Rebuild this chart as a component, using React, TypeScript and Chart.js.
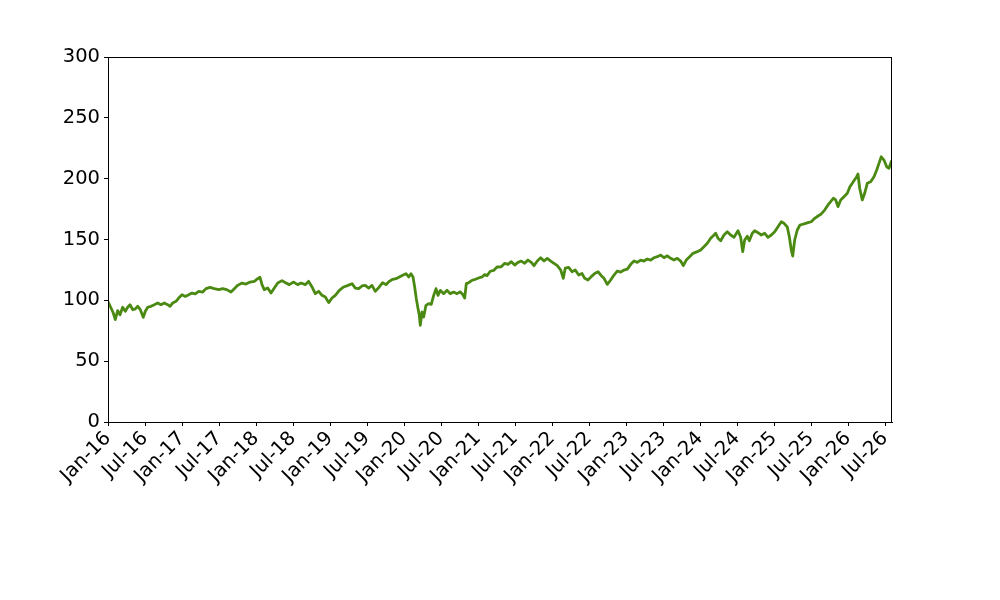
import { useEffect, useRef } from "react";
import { Chart, registerables } from "chart.js";
Chart.register(...registerables);

const monthOffsets = [
  0, 0.49, 0.86, 1.18, 1.57, 1.95, 2.38, 2.81, 3.19, 3.57,
  4.01, 4.43, 4.82, 5.24, 5.72, 6.05, 6.44, 6.97, 7.51, 8.06,
  8.59, 9.13, 9.68, 10.05, 10.49, 11.03, 11.46, 12.0, 12.53, 13.09,
  13.62, 14.16, 14.71, 15.36, 15.89, 16.54, 17.24, 17.95, 18.6, 19.25,
  19.94, 20.48, 21.03, 21.73, 22.38, 23.03, 23.72, 24.27, 24.65, 24.97,
  25.34, 25.9, 26.43, 26.97, 27.52, 28.21, 28.86, 29.4, 30.05, 30.76,
  31.3, 31.99, 32.54, 33.08, 33.61, 34.17, 34.7, 35.24, 35.79, 36.32,
  36.86, 37.51, 38.22, 38.92, 39.57, 40.1, 40.65, 41.19, 41.72, 42.27,
  42.81, 43.34, 43.99, 44.54, 45.08, 45.61, 46.16, 46.7, 47.24, 47.79,
  48.32, 48.76, 49.13, 49.46, 49.73, 49.99, 50.27, 50.48, 50.64, 50.92,
  51.19, 51.56, 52.0, 52.42, 52.81, 53.19, 53.51, 53.88, 54.43, 54.97,
  55.5, 56.06, 56.59, 57.13, 57.56, 57.84, 58.1, 58.49, 59.02, 59.56,
  60.11, 60.65, 61.08, 61.46, 61.99, 62.54, 63.08, 63.77, 64.33, 64.86,
  65.4, 65.95, 66.48, 67.02, 67.57, 68.1, 68.64, 69.08, 69.61, 70.16,
  70.7, 71.23, 71.79, 72.32, 72.86, 73.41, 73.83, 74.15, 74.7, 75.24,
  75.77, 76.32, 76.86, 77.3, 77.83, 78.37, 78.92, 79.46, 79.99, 80.43,
  80.96, 81.51, 82.05, 82.58, 83.14, 83.67, 84.21, 84.76, 85.29, 85.83,
  86.38, 86.91, 87.45, 88.0, 88.54, 89.07, 89.62, 90.16, 90.69, 91.24,
  91.78, 92.31, 92.86, 93.29, 93.77, 94.32, 94.86, 95.56, 96.11, 96.64,
  97.18, 97.73, 98.27, 98.54, 98.91, 99.35, 99.89, 100.42, 100.97, 101.51,
  102.16, 102.59, 102.92, 103.24, 103.66, 103.99, 104.48, 104.86, 105.4, 105.94,
  106.49, 107.02, 107.56, 108.11, 108.64, 109.18, 109.62, 110.15, 110.48, 110.8,
  111.03, 111.35, 111.77, 112.21, 112.86, 113.51, 114.04, 114.59, 115.13, 115.66,
  116.21, 116.75, 117.19, 117.61, 118.0, 118.37, 118.81, 119.34, 119.88, 120.31,
  120.85, 121.4, 121.61, 121.89, 122.31, 122.7, 123.12, 123.67, 124.21, 124.65,
  125.02, 125.39, 125.83, 126.27, 126.64, 127.01, 127.13,
];

// index level at each observation
const values = [
  99, 93.7, 89.6, 84.1, 91.5, 88.2, 94.3, 91, 94.3, 96.4,
  92.3, 93, 95.1, 92.3, 86, 91, 94.3, 95.1, 96.4, 97.8,
  96.4, 97.8, 96.4, 95.1, 97.8, 99.2, 101.9, 104.6, 103.2, 104.6,
  106, 105.3, 107.4, 106.8, 109.6, 110.7, 109.6, 108.8, 109.6, 108.8,
  106.8, 109.6, 112.3, 114.2, 113.4, 115, 115.6, 117.8, 118.9, 112.9,
  108.8, 110.1, 106, 110.1, 114.2, 116.2, 114.2, 112.9, 115, 112.9,
  114.2, 112.9, 115.6, 111, 105.5, 107.4, 104.1, 102.7, 98.1, 101.9,
  104.1, 108.2, 111, 112.3, 113.7, 110.1, 109.6, 111.8, 112.3, 110.1,
  112.3, 107.4, 111, 114.5, 112.9, 115.6, 117.3, 117.8, 119.2, 120.6,
  121.9, 119.2, 121.9, 119.2, 111, 101.4, 93.2, 87.7, 79.5, 90.4,
  86.3, 95.9, 97.3, 96.7, 104.1, 109.6, 104.1, 108.2, 105.5, 108.2,
  105.5, 106.8, 105.5, 107, 104.6, 101.9, 113.7, 114.5, 116.5, 117.3,
  118.4, 119.2, 121.1, 120.3, 123.9, 124.6, 127.4, 127.6, 130.4, 129.6,
  131.8, 129, 131.2, 132.3, 130.4, 133.1, 131.2, 128.5, 132.3, 135,
  132.3, 134.5, 132.3, 130.4, 128.5, 124.9, 118.1, 126.5, 127.1, 123.5,
  124.9, 120.8, 122.1, 118.1, 116.7, 119.5, 122.1, 123.5, 120.3, 118.1,
  113.1, 116.7, 120.8, 124.1, 123.2, 124.9, 125.7, 129.6, 132.3, 131.2,
  133.1, 132.3, 134, 133.1, 135, 135.9, 137.2, 135, 136.6, 134.5,
  133.1, 134.5, 132.3, 128.5, 133.1, 135.9, 138.6, 140, 141.4, 144.1,
  146.9, 151, 153.7, 155.1, 151, 149, 153.7, 156.4, 153.7, 151.8,
  157.2, 151.8, 140, 149.6, 152.7, 149, 155.1, 157.2, 155.6, 153.7,
  155.1, 151.8, 153.7, 156.4, 160.5, 164.6, 163.3, 160.3, 152.3, 141.4,
  136.4, 149.6, 157.8, 161.9, 162.8, 163.8, 164.6, 167.4, 169.3, 171,
  174.2, 178.4, 181.1, 183.9, 182.5, 177, 182.5, 185.2, 188, 193.4,
  197.5, 201.6, 203.8, 192.1, 182.5, 188, 196.2, 197.5, 201.6, 207.1,
  212.6, 218, 215.3, 209.8, 208.5, 213.9, 215,
];

const xTickLabels = [
  "Jan-16", "Jul-16", "Jan-17", "Jul-17", "Jan-18", "Jul-18", "Jan-19", "Jul-19",
  "Jan-20", "Jul-20", "Jan-21", "Jul-21", "Jan-22", "Jul-22", "Jan-23", "Jul-23",
  "Jan-24", "Jul-24", "Jan-25", "Jul-25", "Jan-26", "Jul-26",
];

const yTicks = [0, 50, 100, 150, 200, 250, 300];

const frameBox = {
  id: "frameBox",
  afterDraw(chart: Chart) {
    const { ctx, chartArea: a } = chart;
    ctx.save();
    ctx.strokeStyle = "#000";
    ctx.lineWidth = 1;
    ctx.strokeRect(a.left + 0.5, a.top + 0.5, a.right - a.left - 1, a.bottom - a.top);
    ctx.restore();
  },
};

const App = () => {
  const canvasRef = useRef<HTMLCanvasElement>(null);
  const chartRef = useRef<Chart | null>(null);

  useEffect(() => {
    if (!canvasRef.current) return;
    if (chartRef.current) chartRef.current.destroy();

    const font = { family: "'DejaVu Sans', sans-serif", size: 19.5 };

    chartRef.current = new Chart(canvasRef.current, {
      type: "line",
      data: {
        datasets: [
          {
            data: monthOffsets.map((m, i) => ({ x: m, y: values[i] })),
            borderColor: "#4b8a12",
            borderWidth: 2.8,
            pointRadius: 0,
            tension: 0,
            borderJoinStyle: "round",
            fill: false,
          },
        ],
      },
      options: {
        responsive: false,
        animation: false,
        layout: { padding: { left: 0, top: 57, right: 108, bottom: 0 } },
        plugins: {
          legend: { display: false },
          tooltip: { enabled: false },
        },
        scales: {
          x: {
            type: "linear",
            min: 0,
            max: monthOffsets[monthOffsets.length - 1],
            afterBuildTicks: (s) => {
              s.ticks = xTickLabels.map((_, i) => ({ value: i * 6 }));
            },
            afterFit: (s) => {
              s.height = 178;
            },
            grid: { drawOnChartArea: false, drawTicks: true, tickLength: 4, color: "#000" },
            border: { display: true, color: "#000", width: 1 },
            ticks: {
              autoSkip: false,
              minRotation: 45,
              maxRotation: 45,
              padding: 1,
              color: "#000",
              font,
              callback: (_v, i) => xTickLabels[i],
            },
          },
          y: {
            min: 0,
            max: 300,
            afterBuildTicks: (s) => {
              s.ticks = yTicks.map((v) => ({ value: v }));
            },
            afterFit: (s) => {
              s.width = 108;
            },
            grid: { drawOnChartArea: false, drawTicks: true, tickLength: 4, color: "#000" },
            border: { display: true, color: "#000", width: 1 },
            ticks: {
              padding: 4,
              color: "#000",
              font,
              callback: (v) => String(v),
            },
          },
        },
      },
      plugins: [frameBox],
    });

    return () => {
      chartRef.current?.destroy();
    };
  }, []);

  return (
    <div style={{ position: "absolute", left: 0, top: 0, width: 1000, height: 600, background: "#fff" }}>
      <canvas ref={canvasRef} width={1000} height={600} />
    </div>
  );
};

export default App;
